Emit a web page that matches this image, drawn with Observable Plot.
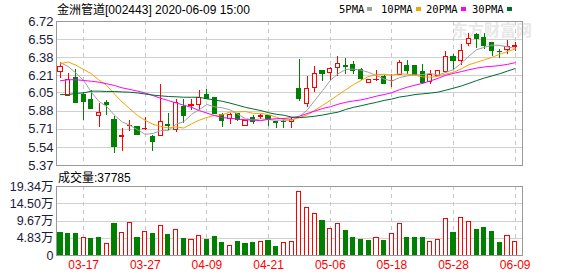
<!DOCTYPE html>
<html><head><meta charset="utf-8">
<script src="https://cdn.jsdelivr.net/npm/d3@7"></script>
<script src="https://cdn.jsdelivr.net/npm/@observablehq/plot@0.6"></script>
<style>
html,body{margin:0;padding:0;background:#fff;}
#wrap{position:relative;width:578px;height:276px;overflow:hidden;font-family:"Liberation Sans","Noto Sans CJK SC",sans-serif;color:#000;}
.abs{position:absolute;white-space:nowrap;line-height:1;}
.cjk{font-family:"Noto Sans CJK SC",sans-serif;}
.leg{font-family:"DejaVu Sans Mono","Liberation Mono",monospace;font-size:10.5px;}
.sq{display:inline-block;width:5px;height:4px;margin-left:3px;vertical-align:middle;position:relative;top:-1px;}
#wrap svg{position:absolute;left:0;background:transparent;}
</style></head><body><div id="wrap">
<div class="abs" style="left:452px;top:21px;color:#e8e8e8;font-size:16px;font-weight:bold;"><span class="cjk">东方财富网</span></div>
<div class="abs" style="left:460px;top:41px;color:#ececec;font-size:7px;">eastmoney.com</div>
<div class="abs" style="left:57px;top:3px;font-size:12px;"><span class="cjk">金洲管道</span>[002443] 2020-06-09 15:00</div>
<div id="legend"></div>
<div class="abs" style="left:58px;top:171px;font-size:12px;"><span class="cjk">成交量</span>:37785</div>
</div>
<script>
const dates = ["03-12","03-13","03-16","03-17","03-18","03-19","03-20","03-23","03-24","03-25","03-26","03-27","03-30","03-31","04-01","04-02","04-03","04-07","04-08","04-09","04-10","04-13","04-14","04-15","04-16","04-17","04-20","04-21","04-22","04-23","04-24","04-27","04-28","04-29","04-30","05-06","05-07","05-08","05-11","05-12","05-13","05-14","05-15","05-18","05-19","05-20","05-21","05-22","05-25","05-26","05-27","05-28","05-29","06-01","06-02","06-03","06-04","06-05","06-08","06-09"];
const openP = [6.247,6.022,6.192,6.027,5.987,5.831,5.954,5.799,5.635,5.738,5.73,5.708,5.635,5.642,5.75,5.701,5.915,5.928,5.934,6.032,6.004,5.844,5.808,5.852,5.742,5.813,5.828,5.83,5.776,5.78,5.776,6.09,5.944,6.099,6.254,6.24,6.287,6.30,6.313,6.27,6.143,6.168,6.203,6.16,6.219,6.30,6.30,6.242,6.15,6.212,6.247,6.383,6.349,6.51,6.59,6.569,6.514,6.438,6.456,6.482];
const highP = [6.335,6.234,6.272,6.054,6.072,5.954,5.976,5.83,5.72,5.794,5.74,5.816,5.654,6.13,5.856,5.985,5.988,5.985,6.075,6.08,6.006,5.858,5.858,5.862,5.796,5.835,5.847,5.834,5.781,5.80,5.816,6.366,6.204,6.295,6.263,6.29,6.395,6.373,6.345,6.28,6.172,6.256,6.217,6.224,6.358,6.358,6.31,6.318,6.26,6.26,6.438,6.412,6.506,6.608,6.608,6.608,6.516,6.459,6.538,6.526];
const lowP = [6.185,6.016,5.954,5.792,5.892,5.728,5.842,5.485,5.502,5.693,5.652,5.694,5.502,5.638,5.698,5.682,5.765,5.886,5.888,5.985,5.848,5.73,5.753,5.784,5.742,5.753,5.798,5.732,5.718,5.718,5.718,5.972,5.917,6.059,6.153,6.168,6.2,6.223,6.22,6.17,6.14,6.153,6.125,6.105,6.212,6.227,6.212,6.13,6.125,6.205,6.233,6.26,6.31,6.482,6.464,6.46,6.388,6.37,6.412,6.44];
const closeP = [6.298,6.174,5.954,5.965,5.896,5.863,5.935,5.548,5.645,5.745,5.654,5.716,5.588,5.78,5.745,5.955,5.835,5.933,6.004,5.989,5.85,5.784,5.842,5.796,5.784,5.782,5.836,5.798,5.772,5.776,5.798,5.998,6.09,6.232,6.226,6.278,6.318,6.296,6.257,6.18,6.167,6.174,6.133,6.166,6.334,6.252,6.219,6.143,6.223,6.255,6.383,6.346,6.445,6.558,6.554,6.49,6.443,6.435,6.485,6.488];
const ma5 = [6.334,6.298,6.236,6.167,6.057,5.970,5.923,5.842,5.778,5.747,5.705,5.662,5.670,5.697,5.697,5.758,5.780,5.849,5.893,5.942,5.920,5.911,5.892,5.851,5.809,5.797,5.808,5.799,5.795,5.794,5.796,5.830,5.888,5.981,6.071,6.167,6.229,6.270,6.274,6.264,6.243,6.213,6.180,6.162,6.194,6.210,6.219,6.222,6.233,6.217,6.243,6.269,6.329,6.396,6.456,6.478,6.498,6.496,6.482,6.468];
const ma10 = [6.325,6.34,6.31,6.27,6.23,6.17,6.12,6.04,5.965,5.902,5.838,5.793,5.756,5.737,5.722,5.732,5.721,5.760,5.795,5.820,5.839,5.846,5.871,5.872,5.876,5.859,5.859,5.846,5.823,5.801,5.797,5.819,5.844,5.888,5.933,5.981,6.030,6.079,6.128,6.168,6.205,6.221,6.225,6.218,6.229,6.226,6.216,6.201,6.198,6.206,6.227,6.244,6.276,6.315,6.337,6.361,6.384,6.413,6.439,6.462];
const ma20 = [6.165,6.174,6.174,6.167,6.16,6.151,6.136,6.12,6.098,6.083,6.067,6.05,6.026,6.0,5.979,5.957,5.935,5.916,5.885,5.861,5.838,5.819,5.813,5.805,5.799,5.795,5.790,5.803,5.809,5.811,5.818,5.832,5.857,5.880,5.904,5.920,5.944,5.962,5.975,5.985,6.001,6.020,6.035,6.053,6.081,6.104,6.123,6.140,6.163,6.187,6.216,6.233,6.250,6.267,6.283,6.294,6.300,6.307,6.318,6.334];
const ma30 = [6.035,6.035,6.046,6.05,6.067,6.067,6.064,6.064,6.06,6.057,6.05,6.04,6.03,6.023,6.017,6.014,6.01,6.01,6.01,5.995,5.985,5.972,5.955,5.935,5.915,5.90,5.885,5.865,5.85,5.841,5.824,5.819,5.824,5.832,5.843,5.857,5.870,5.895,5.915,5.930,5.947,5.962,5.980,5.993,6.012,6.022,6.035,6.042,6.049,6.058,6.076,6.095,6.115,6.140,6.166,6.190,6.210,6.231,6.255,6.279];
// volume in 万手
const volume = [6.19,5.91,5.91,4.98,4.5,4.79,3.29,8.73,6.39,9.21,4.79,6.67,5.91,8.36,5.63,7.24,4.5,4.42,5.55,4.22,5.07,3.38,2.73,3.66,3.1,3.38,3.86,4.14,2.25,3.58,3.86,17.93,13.34,11.65,9.77,7.43,8.84,6.95,4.98,4.42,4.14,4.89,4.14,6.02,8.84,4.98,4.98,4.98,3.86,4.33,10.24,6.19,10.53,9.29,7.24,7.8,6.67,3.58,5.46,3.78];
const volUp = [0,0,0,1,0,0,1,0,1,1,0,1,0,1,0,1,0,1,1,0,0,0,1,0,0,0,1,0,0,1,1,1,1,1,0,1,1,0,0,0,0,1,0,1,1,0,0,0,1,1,1,0,1,1,0,0,0,0,1,1];
const tickDates = ["03-17","03-27","04-09","04-21","05-06","05-18","05-28","06-09"];
const priceTicks = [5.37,5.54,5.71,5.88,6.05,6.21,6.38,6.55,6.72];
const volTicks = [0,4.83,9.67,14.50,19.34];
const volTickLabels = ["0","4.83万","9.67万","14.50万","19.34万"];
const maNames = ["5PMA","10PMA","20PMA","30PMA"];
const maColors = ["#a0a0a0","#f5a300","#ff00ff","#006b33"];

const RED = "#ff0000", GREEN = "#008000";
const rows = dates.map((d, i) => ({i, d, o: openP[i], h: highP[i], l: lowP[i], c: closeP[i], v: volume[i], vu: volUp[i], up: closeP[i] >= openP[i]}));
const tickIdx = tickDates.map(t => dates.indexOf(t));
const xDomain = [-0.52, dates.length - 0.05];
const HW = 0.27;
const maSeries = [ma5, ma10, ma20, ma30];

const common = {width: 578, marginLeft: 56, marginRight: 56, color: {type: "identity"},
  style: {fontFamily: '"Liberation Sans","Noto Sans CJK SC",sans-serif', background: "transparent"}};

const price = Plot.plot({
  ...common, height: 176, marginTop: 21, marginBottom: 11,
  x: {type: "linear", domain: xDomain, axis: null, label: null},
  y: {domain: [5.37, 6.72], axis: null, label: null},
  marks: [
    Plot.ruleY(priceTicks.slice(1, -1), {stroke: "#d0d0d0", shapeRendering: "crispEdges"}),
    Plot.ruleX(tickIdx, {stroke: "#c8c8c8", strokeDasharray: "4,4", shapeRendering: "crispEdges"}),
    Plot.ruleX(rows, {x: "i", y1: "l", y2: "h", stroke: d => d.up ? RED : GREEN, shapeRendering: "crispEdges"}),
    Plot.rect(rows, {x1: d => d.i - HW, x2: d => d.i + HW, y1: "o", y2: "c", fill: d => d.up ? "#fff" : GREEN, stroke: d => d.up ? RED : GREEN, shapeRendering: "crispEdges"}),
    ...maSeries.map((s, k) => Plot.line(s, {x: (d, i) => i, y: d => d, stroke: maColors[k], strokeWidth: 1})),
    Plot.frame({stroke: "#999", shapeRendering: "crispEdges"}),
    Plot.axisY({ticks: priceTicks, tickFormat: d => d.toFixed(2), tickSize: 0, tickPadding: 3, fontSize: 13, fill: "#1a1a3a", label: null})
  ]
});
price.style.top = "0px";

const vol = Plot.plot({
  ...common, height: 106, marginTop: 16, marginBottom: 21,
  x: {type: "linear", domain: xDomain, axis: null, label: null},
  y: {domain: [0, 19.34], axis: null, label: null},
  marks: [
    Plot.ruleY(volTicks.slice(1, -1), {stroke: "#d0d0d0", shapeRendering: "crispEdges"}),
    Plot.ruleX(tickIdx, {stroke: "#c8c8c8", strokeDasharray: "4,4", shapeRendering: "crispEdges"}),
    Plot.rect(rows, {x1: d => d.i - HW, x2: d => d.i + HW, y1: 0, y2: "v", fill: d => d.vu ? "#fff" : GREEN, stroke: d => d.vu ? RED : GREEN, shapeRendering: "crispEdges"}),
    Plot.frame({stroke: "#999", shapeRendering: "crispEdges"}),
    Plot.axisY({ticks: volTicks, tickFormat: d => volTickLabels[volTicks.indexOf(d)], tickSize: 0, tickPadding: 3, fontSize: 12.5, fill: "#1a1a3a", label: null}),
    Plot.axisX({ticks: tickIdx, tickFormat: i => dates[i], tickSize: 0, tickPadding: 5, fontSize: 12, fill: RED, label: null})
  ]
});
vol.style.top = "170px";

const wrap = document.getElementById("wrap");
wrap.appendChild(price);
wrap.appendChild(vol);

const legPos = [339, 381, 426, 472];
const legend = document.getElementById("legend");
maNames.forEach((n, k) => {
  const el = document.createElement("div");
  el.className = "abs leg";
  el.style.left = legPos[k] + "px";
  el.style.top = "4px";
  el.innerHTML = n + '<span class="sq" style="background:' + maColors[k] + '"></span>';
  legend.appendChild(el);
});
</script></body></html>
